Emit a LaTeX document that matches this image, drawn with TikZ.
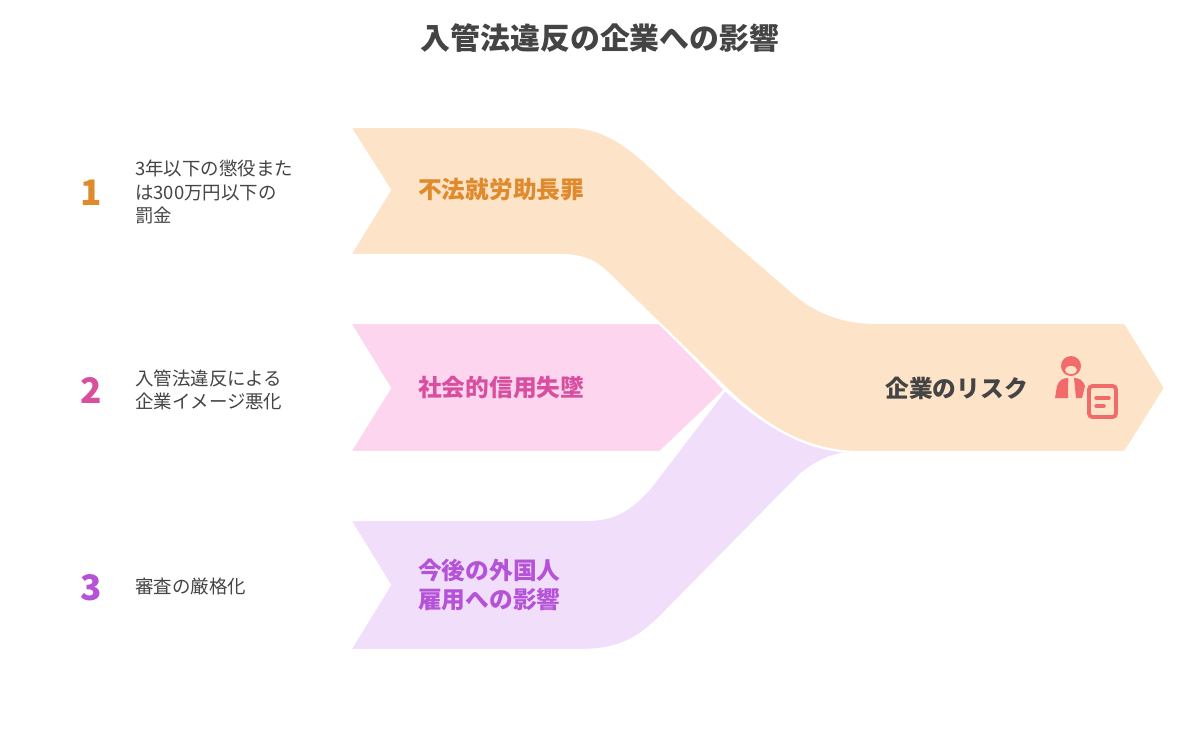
\documentclass[tikz,border=0pt]{standalone}
\usepackage{fontspec}
\setmainfont{Noto Sans CJK JP}
\usetikzlibrary{backgrounds}
\definecolor{bandorange}{HTML}{FDE3C8}
\definecolor{bandpink}{HTML}{FDD5EE}
\definecolor{bandpurple}{HTML}{F0DEFA}
\definecolor{txtorange}{HTML}{E08A2E}
\definecolor{txtpink}{HTML}{D94FA0}
\definecolor{txtpurple}{HTML}{B552D8}
\definecolor{txtdark}{HTML}{444444}
\definecolor{iconred}{HTML}{F26B6B}

\begin{document}
\begin{tikzpicture}[x=0.02cm,y=-0.02cm,
  background rectangle/.style={fill=white}, show background rectangle]
  \useasboundingbox (0,0) rectangle (1200,750);
  \tikzstyle{band}=[draw=white, line width=1.2pt, line join=round]
  \tikzstyle{lbl}=[font=\fontsize{13.5}{17}\selectfont\bfseries, anchor=west, align=left]
  \tikzstyle{note}=[font=\fontsize{10.5}{13.5}\selectfont, text=txtdark, anchor=west, align=left]
  \tikzstyle{num}=[font=\fontsize{20}{20}\selectfont\bfseries]

  \node[font=\fontsize{17}{20}\selectfont\bfseries, text=txtdark] (title) at (600,38) {入管法違反の企業への影響};

  % bands
  \draw[band, fill=bandpink] (350,323) -- (660,323) -- (725,390) -- (660,452)
    -- (350,452) -- (390,388) -- cycle;
  \draw[band, fill=bandpurple] (350,520) -- (585,520)
    .. controls (615,520) and (630,510) .. (650,488) -- (725,390)
    .. controls (770,430) and (810,452) .. (860,452)
    .. controls (840,452) and (820,458) .. (800,475) -- (665,612)
    .. controls (640,638) and (620,650) .. (580,650) -- (350,650) -- (390,585) -- cycle;
  \draw[band, fill=bandorange] (350,127) -- (570,127)
    .. controls (615,127) and (645,162) .. (680,195) -- (790,290)
    .. controls (815,312) and (840,323) .. (880,323) -- (1125,323) -- (1165,388)
    -- (1125,452) -- (860,452)
    .. controls (810,452) and (770,430) .. (730,392) -- (620,285)
    .. controls (600,265) and (590,255) .. (560,255) -- (350,255) -- (390,190) -- cycle;

  % band labels
  \node[lbl, text=txtorange] (risk1) at (412,190) {不法就労助長罪};
  \node[lbl, text=txtpink] (risk2) at (412,388) {社会的信用失墜};
  \node[lbl, text=txtpurple] (risk3) at (412,585) {今後の外国人\\雇用への影響};
  \node[lbl, text=txtdark, anchor=east] (corp) at (1034,388) {企業のリスク};

  % icon
  \fill[iconred] (1071,366) circle (10);
  \fill[bandorange] (1071,370) ellipse (6 and 4);
  \fill[iconred] (1055,398) -- (1057,386) .. controls (1059,380) and (1063,378) .. (1068,378)
    -- (1068,398) -- cycle;
  \fill[iconred] (1074,378) .. controls (1079,378) and (1083,380) .. (1085,386) -- (1082,398) -- (1076,398) -- cycle;
  \draw[iconred, line width=2.2pt, rounded corners=2pt, fill=bandorange] (1089,386) rectangle (1116,417);
  \draw[iconred, line width=2pt, line cap=round] (1096,398) -- (1109,398) (1096,406) -- (1104,406);

  % left column
  \node[num, text=txtorange] (n1) at (91,193) {1};
  \node[num, text=txtpink] (n2) at (91,390) {2};
  \node[num, text=txtpurple] (n3) at (91,588) {3};
  \node[note] (d1) at (129,192) {3年以下の懲役また\\は300万円以下の\\罰金};
  \node[note] (d2) at (129,390) {入管法違反による\\企業イメージ悪化};
  \node[note] (d3) at (129,586) {審査の厳格化};
\end{tikzpicture}
\end{document}
